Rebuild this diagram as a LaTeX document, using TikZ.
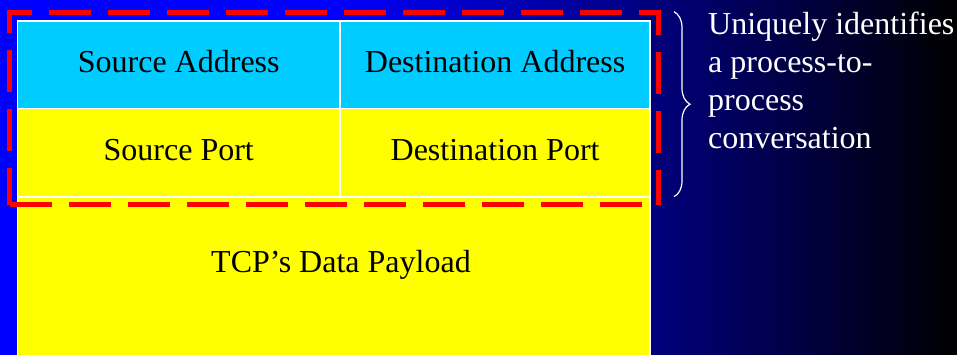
\documentclass[tikz,border=0pt]{standalone}
\usepackage{fontspec}
\setmainfont{Liberation Serif}
\usetikzlibrary{decorations.pathreplacing}

\definecolor{cellcyan}{RGB}{0,204,255}
\definecolor{cellyellow}{RGB}{255,255,0}
\definecolor{framered}{RGB}{255,0,0}
\definecolor{slideblue}{RGB}{0,0,255}

% slide background: solid blue on the left, fading to black on the right
\pgfdeclarehorizontalshading{slidebg}{100bp}{%
  color(0bp)=(slideblue); color(25bp)=(slideblue); color(42.24bp)=(slideblue);
  color(75bp)=(black); color(100bp)=(black)}

\begin{document}
\begin{tikzpicture}[x=1pt,y=-1pt,
  cell/.style={draw=white, line width=1.5pt, inner sep=0pt,
    font=\fontsize{32}{38}\selectfont, text height=21.3pt, text depth=5pt},
  celltext/.style={inner sep=0pt, font=\fontsize{32}{38}\selectfont},
  redframe/.style={draw=framered, line width=5pt,
    dash pattern=on 42pt off 17pt, line join=miter},
  bracestyle/.style={draw=white, line width=1.2pt, decorate,
    decoration={brace, amplitude=16pt}},
  notetext/.style={inner sep=0pt, align=left, text=white,
    font=\fontsize{32}{38}\selectfont}]

\useasboundingbox (0,0) rectangle (957,354);
\clip (0,0) rectangle (957,354);
\shade[shading=slidebg] (0,0) rectangle (957,354);

% header table
\node[cell, fill=cellcyan, minimum width=322.5pt, minimum height=87.7pt]
  (srcaddr) at (178.75,64.65) {Source Address};
\node[cell, fill=cellcyan, minimum width=310.2pt, minimum height=87.7pt]
  (dstaddr) at (495.1,64.65) {Destination Address};
\node[cell, fill=cellyellow, minimum width=322.5pt, minimum height=88pt]
  (srcport) at (178.75,152.5) {Source Port};
\node[cell, fill=cellyellow, minimum width=310.2pt, minimum height=88pt]
  (dstport) at (495.1,152.5) {Destination Port};
\node[cell, fill=cellyellow, minimum width=632.7pt, minimum height=175pt, anchor=north]
  (payloadcell) at (333.85,196.5) {};
\node[celltext, anchor=base] (payload) at (341,272.3) {TCP’s Data Payload};

% dashed frame around the address and port rows
\coordinate (ftl) at (9.8,12.5);
\coordinate (ftr) at (658,12.5);
\coordinate (fbr) at (658,204.5);
\coordinate (fbl) at (9.8,204.5);
\draw[redframe, dash phase=5pt] (fbl) -- (ftl) -- (ftr) -- (fbr);
\draw[redframe] (fbl) -- (fbr);

% brace and note
\coordinate (btop) at (674,11.7);
\coordinate (bbot) at (674,196.7);
\draw[bracestyle] (btop) -- (bbot);
\node[notetext, anchor=north west] (note) at (708,11.4)
  {Uniquely identifies\\a process-to-\\process\\conversation};
\end{tikzpicture}
\end{document}
